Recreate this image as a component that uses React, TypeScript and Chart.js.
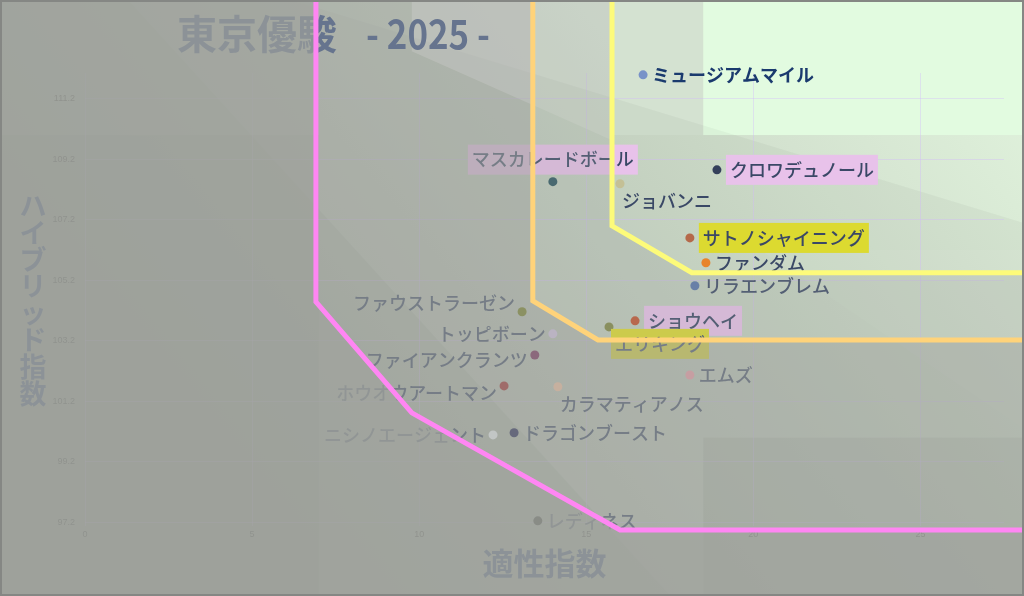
import { useEffect, useRef } from 'react';
import { Chart, registerables } from 'chart.js';

Chart.register(...registerables);

// horses, 適性指数 (x) and ハイブリッド指数 (y)
const horses = [
  'ミュージアムマイル', 'クロワデュノール', 'マスカレードボール', 'ジョバンニ', 'サトノシャイニング',
  'ファンダム', 'リラエンブレム', 'ショウヘイ', 'エリキング', 'エムズ', 'ファウストラーゼン',
  'トッピボーン', 'ファイアンクランツ', 'ホウオウアートマン', 'カラマティアノス',
  'ニシノエージェント', 'ドラゴンブースト', 'レディネス',
];
const aptitude = [16.7, 18.91, 14.0, 16.01, 18.1, 18.58, 18.25, 16.46, 15.68, 18.1, 13.08, 14.0, 13.46, 12.54, 14.15, 12.21, 12.84, 13.55];
const hybrid = [111.99, 108.85, 108.46, 108.39, 106.6, 105.78, 105.02, 103.86, 103.66, 102.07, 104.16, 103.43, 102.73, 101.71, 101.68, 100.09, 100.16, 97.25];

const xTicks = [0, 5, 10, 15, 20, 25];
const yTicks = [97.2, 99.2, 101.2, 103.2, 105.2, 107.2, 109.2, 111.2];

// zone boundaries
const pinkZoneX = [6.91, 6.91, 9.78, 16.01, 29];
const pinkZoneY = [115, 104.49, 100.82, 96.95, 96.95];
const orangeZoneX = [13.4, 13.4, 15.35, 29];
const orangeZoneY = [115, 104.52, 103.23, 103.23];
const yellowZoneX = [15.77, 15.77, 18.16, 29];
const yellowZoneY = [115, 107.0, 105.45, 105.45];

const pinkBoxes = ['マスカレードボール', 'クロワデュノール', 'ショウヘイ'];
const yellowBoxes = ['サトノシャイニング', 'エリキング'];

// styling
const pointColors = [
  '#7892c8', '#34405a', '#2c5660', '#c4c096', '#b5694a', '#e8842a', '#5774ab', '#c15431', '#82894a',
  '#ff9aab', '#6f7a10', '#e0cdf9', '#6f184c', '#a02020', '#ffc5a2', '#f6fbff', '#13184c', '#000000',
];
const labelSide = ['r', 'r', 't', 'b', 'r', 'r', 'r', 'r', 'b', 'r', 'l', 'l', 'l', 'l', 'b', 'l', 'r', 'r'];
const labelDy = [0, 0, 0, 0, 0, 0, 0, 0, 0, 0, -9, 0, 5, 7, 0, 0, 0, 0];

const FONT = '"Noto Sans CJK JP", "Noto Sans", sans-serif';
const NAVY = '#153278';
const SHADE = '159,162,157';

const toPixels = (chart: any, xs: number[], ys: number[]) =>
  xs.map((v, i) => [chart.scales.x.getPixelForValue(v), chart.scales.y.getPixelForValue(ys[i])]);

const shadeOutside = (ctx: CanvasRenderingContext2D, w: number, h: number, pts: number[][], alpha: number) => {
  ctx.beginPath();
  ctx.rect(0, 0, w, h);
  ctx.moveTo(pts[0][0], pts[0][1]);
  pts.slice(1).forEach((p) => ctx.lineTo(p[0], p[1]));
  ctx.lineTo(pts[pts.length - 1][0], pts[0][1]);
  ctx.closePath();
  ctx.fillStyle = `rgba(${SHADE},${alpha})`;
  ctx.fill('evenodd');
};

const poly = (ctx: CanvasRenderingContext2D, pts: number[][], fill: string) => {
  ctx.fillStyle = fill;
  ctx.beginPath();
  pts.forEach((p, i) => (i ? ctx.lineTo(p[0], p[1]) : ctx.moveTo(p[0], p[1])));
  ctx.closePath();
  ctx.fill();
};

const backdrop = {
  id: 'backdrop',
  beforeDraw(chart: any) {
    const { ctx, width, height } = chart;
    const { x, y } = chart.scales;
    ctx.save();
    const g = ctx.createLinearGradient(width, 0, 330, 560);
    g.addColorStop(0, '#e2f5de');
    g.addColorStop(1, '#b4bab0');
    ctx.fillStyle = g;
    ctx.fillRect(0, 0, width, height);

    const x7 = x.getPixelForValue(7);
    const xP = x.getPixelForValue(pinkZoneX[2]);
    const xO = x.getPixelForValue(orangeZoneX[0]);
    const xY = x.getPixelForValue(yellowZoneX[0]);
    const x185 = x.getPixelForValue(18.5);
    const y110 = y.getPixelForValue(110);
    const y100 = y.getPixelForValue(100);

    ctx.fillStyle = '#d4e2d1';
    ctx.fillRect(xY, 0, x185 - xY, y110);
    ctx.fillStyle = '#e2fbe0';
    ctx.fillRect(x185, 0, width - x185, y110);
    ctx.fillStyle = 'rgba(0,0,0,0.07)';
    ctx.fillRect(x185, y100, width - x185, height - y100);
    ctx.fillRect(0, y110, x7, height - y110);

    // light facets in the upper band
    const edge = (px: number) => 15 + (px - 330) * 0.444;
    poly(ctx, [[xP, -5], [xO, -5], [xO, edge(xO)], [xP, edge(xP)]], 'rgba(255,255,255,0.55)');
    poly(ctx, [[xO, -5], [xY, -5], [xY, edge(xY)], [xO, edge(xO)]], 'rgba(255,255,255,0.18)');

    // faint diagonal bands
    poly(ctx, [[-100, -119], [1100, 246], [1100, 700], [-100, 700]], 'rgba(0,0,0,0.035)');
    poly(ctx, [[110, -20], [720, 650], [-100, 650], [-100, -20]], 'rgba(0,0,0,0.05)');
    poly(ctx, [[760, 250], [1100, 480], [1100, 250]], 'rgba(255,255,255,0.05)');
    ctx.restore();
  },
  afterDatasetDraw(chart: any, args: any) {
    if (args.index !== 0) return;
    const { ctx, width, height, chartArea } = chart;
    ctx.save();
    ctx.textBaseline = 'middle';
    ctx.textAlign = 'left';

    chart.getDatasetMeta(0).data.forEach((pt: any, i: number) => {
      const name = horses[i];
      const bold = i === 0;
      ctx.font = `${bold ? 'bold' : '500'} 18px ${FONT}`;
      const w = ctx.measureText(name).width;
      const box = pinkBoxes.includes(name) ? '#e8c2ea' : yellowBoxes.includes(name) ? '#dcda30' : null;
      const py = pt.y + labelDy[i];
      let tx = pt.x + 9;
      let ty = py;
      if (labelSide[i] === 'l') tx = pt.x - 7 - w;
      if (labelSide[i] === 't') {
        tx = pt.x - w / 2;
        ty = py - 22;
      }
      if (labelSide[i] === 'b') {
        tx = pt.x + 2;
        ty = py + 17;
      }
      if (box) {
        if (labelSide[i] === 'r' || labelSide[i] === 'b') tx += 4;
        ctx.fillStyle = box;
        ctx.fillRect(tx - 4, ty - 15, w + 8, 30);
      }
      ctx.fillStyle = bold ? '#1a3a6e' : '#3a4866';
      ctx.fillText(name, tx, ty);
    });

    // title
    ctx.fillStyle = NAVY;
    ctx.font = `bold 40px ${FONT}`;
    ctx.fillText('東京優駿', 177, 34);
    ctx.fillText('- 2025 -', 366, 34, 124);

    // axis titles
    ctx.font = `bold 31px ${FONT}`;
    ctx.textAlign = 'center';
    ctx.fillText('適性指数', (chartArea.left + chartArea.right) / 2, 563);
    ctx.font = `bold 27px ${FONT}`;
    const yTitle = Array.from('ハイブリッド指数');
    const midY = (chartArea.top + chartArea.bottom) / 2;
    yTitle.forEach((c, i) => ctx.fillText(c, 33, midY + (i - (yTitle.length - 1) / 2) * 26.8));

    // fade everything outside the zones
    shadeOutside(ctx, width, height, toPixels(chart, yellowZoneX, yellowZoneY), 0.26);
    shadeOutside(ctx, width, height, toPixels(chart, orangeZoneX, orangeZoneY), 0.45);
    shadeOutside(ctx, width, height, toPixels(chart, pinkZoneX, pinkZoneY), 0.66);
    ctx.restore();
  },
  afterDraw(chart: any) {
    const { ctx, width, height } = chart;
    ctx.save();
    ctx.strokeStyle = '#858784';
    ctx.lineWidth = 2;
    ctx.strokeRect(1, 1, width - 2, height - 2);
    ctx.restore();
  },
};

const zoneLine = (xs: number[], ys: number[], color: string, order: number) => ({
  data: xs.map((v, i) => ({ x: v, y: ys[i] })),
  showLine: true,
  borderColor: color,
  backgroundColor: color,
  borderWidth: 5,
  borderJoinStyle: 'miter' as const,
  pointRadius: 0,
  clip: false as const,
  order,
});

const App = () => {
  const canvasRef = useRef<HTMLCanvasElement>(null);

  useEffect(() => {
    if (!canvasRef.current) return;
    const tickFont = { size: 9, family: '"Liberation Sans", sans-serif' };

    const chart = new Chart(canvasRef.current, {
      type: 'scatter',
      data: {
        datasets: [
          {
            data: horses.map((_, i) => ({ x: aptitude[i], y: hybrid[i] })),
            pointRadius: 4.5,
            pointBorderWidth: 0,
            pointBackgroundColor: pointColors,
            clip: false,
            order: 10,
          },
          zoneLine(pinkZoneX, pinkZoneY, '#ff86f3', 3),
          zoneLine(orangeZoneX, orangeZoneY, '#ffd37a', 2),
          zoneLine(yellowZoneX, yellowZoneY, '#fdfb7a', 1),
        ],
      },
      options: {
        animation: false,
        responsive: true,
        maintainAspectRatio: false,
        layout: { padding: { top: 73, right: 20, left: 0, bottom: 0 } },
        plugins: {
          legend: { display: false },
          tooltip: { enabled: false },
        },
        scales: {
          x: {
            type: 'linear',
            min: 0,
            max: 27.5,
            afterBuildTicks: (s: any) => {
              s.ticks = xTicks.map((v) => ({ value: v }));
            },
            afterFit: (s: any) => {
              s.height = 70;
            },
            ticks: { font: tickFont, color: '#333', padding: 3, maxRotation: 0 },
            grid: { color: 'rgba(210,180,255,0.35)', drawTicks: false },
            border: { display: false },
          },
          y: {
            min: 97.08,
            max: 112.05,
            afterBuildTicks: (s: any) => {
              s.ticks = yTicks.map((v) => ({ value: v }));
            },
            afterFit: (s: any) => {
              s.width = 85;
            },
            ticks: { font: tickFont, color: '#333', padding: 10, callback: (v: any) => Number(v).toFixed(1) },
            grid: { color: 'rgba(210,180,255,0.35)', drawTicks: false },
            border: { display: false },
          },
        },
      },
      plugins: [backdrop],
    });

    return () => {
      chart.destroy();
    };
  }, []);

  return (
    <div style={{ position: 'fixed', left: 0, top: 0, width: 1024, height: 596 }}>
      <canvas ref={canvasRef} />
    </div>
  );
};

export default App;
